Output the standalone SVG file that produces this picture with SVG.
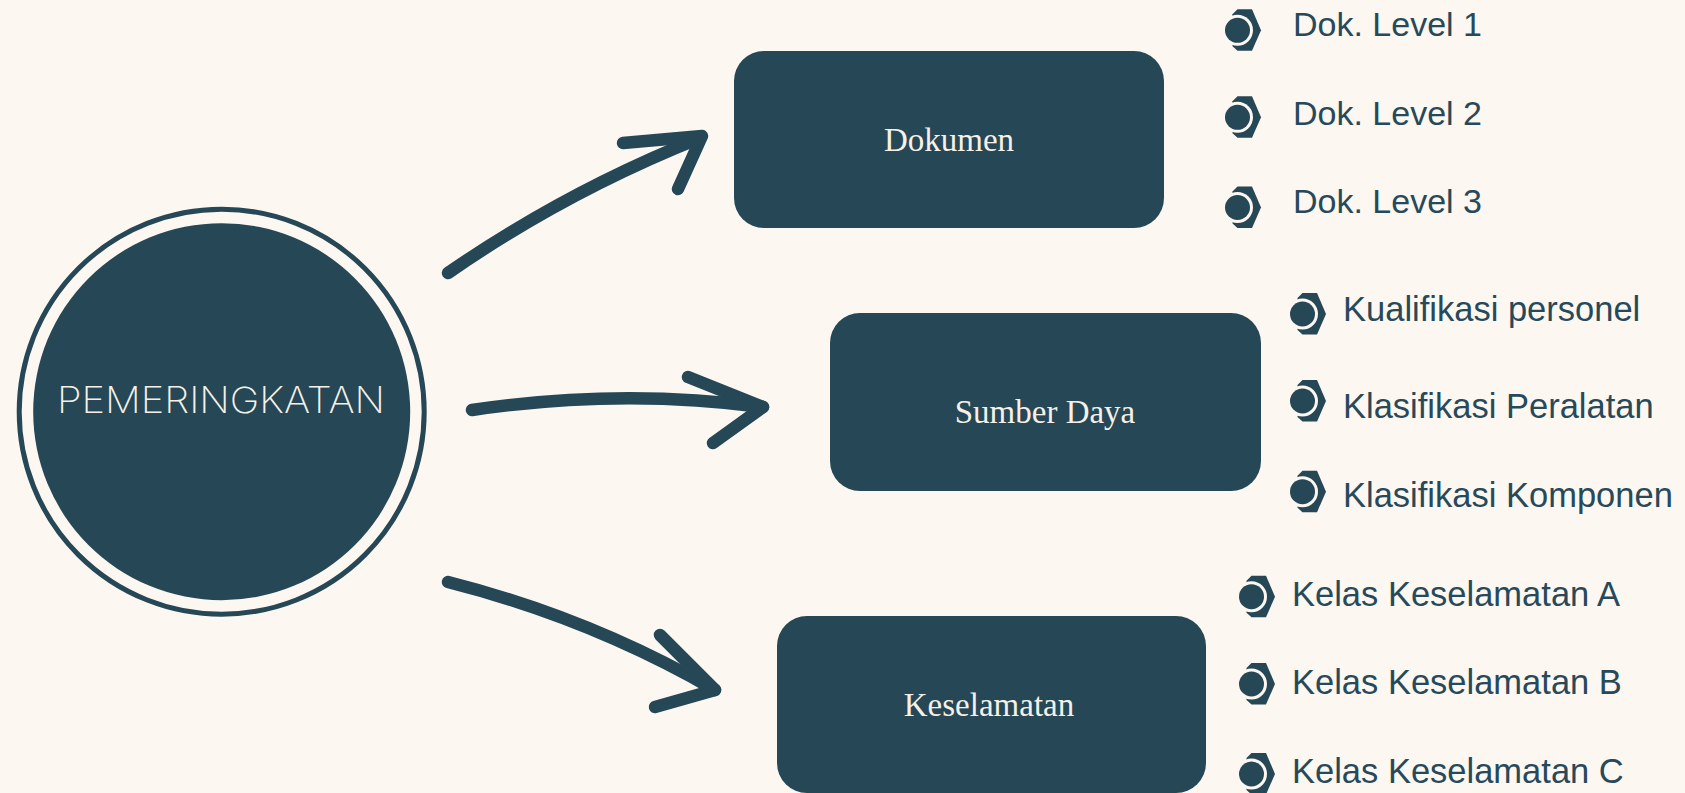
<svg xmlns="http://www.w3.org/2000/svg" xmlns:xlink="http://www.w3.org/1999/xlink" width="1685" height="793" viewBox="0 0 1685 793">
  <style>
    .bg { fill: #fcf7f1; }
    .box { fill: #254756; }
    .box-label { font-family: "Liberation Serif", "Times New Roman", serif; font-size: 33px; fill: #f6f0e6; text-anchor: middle; }
    .item { font-family: "Liberation Sans", Arial, sans-serif; font-size: 34.5px; fill: #27495a; }
    .item-sm { font-size: 34px; }
    .arrow { fill: none; stroke: #254756; stroke-width: 12.5; stroke-linecap: round; stroke-linejoin: round; }
    .hub-label { font-family: Inter, "DejaVu Sans", sans-serif; font-weight: 200; font-size: 36px; fill: #f6f0e6; text-anchor: middle; }
  </style>
  <defs>
    <!-- bullet: dark dot inside a half-hexagon bracket -->
    <g id="bullet">
      <polygon points="0,-21 14.5,-21 23.5,0 14.5,20.5 0,20.5 -5,16 -5,-16" fill="#254756"/>
      <circle r="15.5" fill="#fcf7f1"/>
      <circle r="12.5" fill="#254756"/>
    </g>
  </defs>

  <rect class="bg" x="0" y="0" width="1685" height="793"/>

  <!-- central hub -->
  <g id="node-pemeringkatan">
    <circle cx="221.7" cy="411.7" r="202.5" fill="none" stroke="#254756" stroke-width="5"/>
    <circle cx="221.7" cy="411.7" r="188.5" fill="#254756"/>
    <text class="hub-label" x="221" y="413" textLength="328" lengthAdjust="spacingAndGlyphs">PEMERINGKATAN</text>
  </g>

  <!-- hand-drawn arrows -->
  <g id="connectors">
    <path class="arrow" d="M448,273 Q565,192 700,138"/>
    <path class="arrow" d="M623,143 L702,136 L678,189"/>
    <path class="arrow" d="M472,410 Q620,388 763,407"/>
    <path class="arrow" d="M688,377 L763,407 L713,443"/>
    <path class="arrow" d="M448,582 Q590,618 715,690"/>
    <path class="arrow" d="M660,635 L715,690 L655,707"/>
  </g>

  <g id="node-dokumen">
    <rect class="box" x="734" y="51" width="430" height="177" rx="30"/>
    <text class="box-label" x="949" y="151">Dokumen</text>
  </g>

  <g id="node-sumber-daya">
    <rect class="box" x="830" y="313" width="431" height="178" rx="30"/>
    <text class="box-label" x="1045" y="423">Sumber Daya</text>
  </g>

  <g id="node-keselamatan">
    <rect class="box" x="777" y="616" width="429" height="177" rx="30"/>
    <text class="box-label" x="989" y="716">Keselamatan</text>
  </g>

  <g id="list-dokumen">
    <use xlink:href="#bullet" x="1237.5" y="30.3"/>
    <use xlink:href="#bullet" x="1237.5" y="117.3"/>
    <use xlink:href="#bullet" x="1237.5" y="207.5"/>
    <text class="item item-sm" x="1293" y="36">Dok. Level 1</text>
    <text class="item item-sm" x="1293" y="125">Dok. Level 2</text>
    <text class="item item-sm" x="1293" y="213">Dok. Level 3</text>
  </g>

  <g id="list-sumber-daya">
    <use xlink:href="#bullet" x="1302.5" y="314"/>
    <use xlink:href="#bullet" x="1302.5" y="401"/>
    <use xlink:href="#bullet" x="1302.5" y="491.7"/>
    <text class="item" x="1343" y="321">Kualifikasi personel</text>
    <text class="item" x="1343" y="418">Klasifikasi Peralatan</text>
    <text class="item" x="1343" y="507">Klasifikasi Komponen</text>
  </g>

  <g id="list-keselamatan">
    <use xlink:href="#bullet" x="1251.5" y="596.7"/>
    <use xlink:href="#bullet" x="1251.5" y="684"/>
    <use xlink:href="#bullet" x="1251.5" y="774"/>
    <text class="item" x="1292" y="606">Kelas Keselamatan A</text>
    <text class="item" x="1292" y="694">Kelas Keselamatan B</text>
    <text class="item" x="1292" y="783">Kelas Keselamatan C</text>
  </g>
</svg>
